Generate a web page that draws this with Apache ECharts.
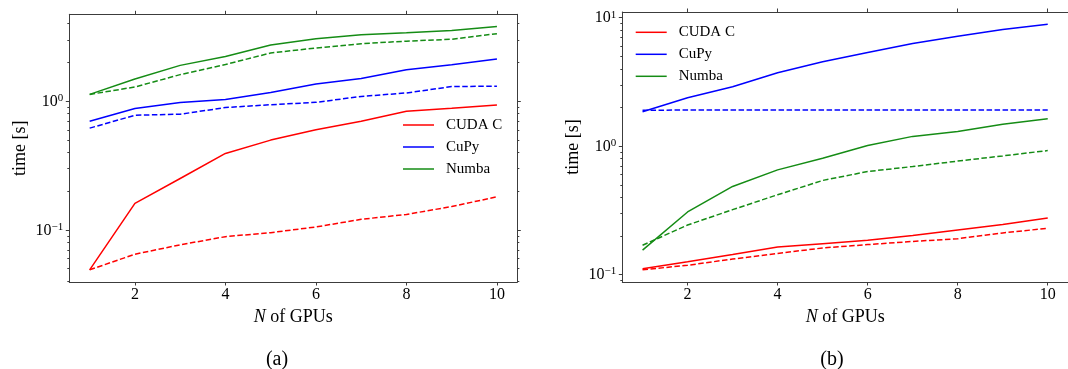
<!DOCTYPE html>
<html>
<head>
<meta charset="utf-8">
<script src="https://cdn.jsdelivr.net/npm/echarts@6/dist/echarts.min.js"></script>
<style>
  html, body { margin: 0; padding: 0; background: #ffffff; }
  #chart { width: 1068px; height: 369px; }
</style>
</head>
<body>
<div id="chart"></div>
<script>
// Number of GPUs on the horizontal axis
const gpus = [1, 2, 3, 4, 5, 6, 7, 8, 9, 10];

// Panel (a): run time in seconds (solid and dashed variants)
const cudaA      = [0.049, 0.161, 0.251, 0.393, 0.499, 0.600, 0.700, 0.836, 0.883, 0.937];
const cudaADash  = [0.049, 0.0648, 0.0766, 0.0887, 0.0953, 0.1055, 0.121, 0.132, 0.152, 0.181];
const cupyA      = [0.700, 0.877, 0.977, 1.03, 1.17, 1.36, 1.50, 1.76, 1.92, 2.13];
const cupyADash  = [0.618, 0.778, 0.793, 0.893, 0.940, 0.980, 1.09, 1.16, 1.30, 1.31];
const numbaA     = [1.13, 1.49, 1.90, 2.23, 2.73, 3.06, 3.29, 3.41, 3.55, 3.81];
const numbaADash = [1.13, 1.29, 1.61, 1.93, 2.37, 2.59, 2.80, 2.93, 3.03, 3.35];

// Panel (b): run time in seconds (solid and dashed variants)
const cudaB      = [0.111, 0.1255, 0.143, 0.164, 0.174, 0.185, 0.201, 0.222, 0.245, 0.276];
const cudaBDash  = [0.109, 0.118, 0.132, 0.146, 0.161, 0.171, 0.181, 0.190, 0.211, 0.229];
const cupyB      = [1.85, 2.38, 2.90, 3.72, 4.53, 5.36, 6.29, 7.16, 8.07, 8.88];
const cupyBDash  = [1.90, 1.91, 1.91, 1.91, 1.91, 1.91, 1.91, 1.91, 1.91, 1.91];
const numbaB     = [0.155, 0.307, 0.485, 0.653, 0.805, 1.01, 1.19, 1.30, 1.48, 1.63];
const numbaBDash = [0.169, 0.243, 0.320, 0.418, 0.540, 0.634, 0.693, 0.764, 0.839, 0.923];

// Legend entries and panel captions
const names = ['CUDA C', 'CuPy', 'Numba'];
const captions = ['(a)', '(b)'];

// Tick positions
const xTicks = [2, 4, 6, 8, 10];
const yMajorA = [0.1, 1];
const yMinorA = [0.04, 0.05, 0.06, 0.07, 0.08, 0.09, 0.2, 0.3, 0.4, 0.5, 0.6, 0.7, 0.8, 0.9, 2, 3, 4];
const yMajorB = [0.1, 1, 10];
const yMinorB = [0.09, 0.2, 0.3, 0.4, 0.5, 0.6, 0.7, 0.8, 0.9, 2, 3, 4, 5, 6, 7, 8, 9];

const FONT = 'Liberation Serif';
const SPINE = '#3c3c3c';
const COLORS = { 'CUDA C': '#ff0000', 'CuPy': '#0000ff', 'Numba': '#158c15' };
const DASH = [5.5, 2.5];

// Axis limits padded by 5% of the data span (log space for y)
function logLimits(arrays) {
  const all = [].concat(...arrays);
  const lo = Math.log10(Math.min(...all));
  const hi = Math.log10(Math.max(...all));
  const pad = 0.05 * (hi - lo);
  return [Math.pow(10, lo - pad), Math.pow(10, hi + pad)];
}
const xPad = 0.05 * (gpus[gpus.length - 1] - gpus[0]);
const xMin = gpus[0] - xPad;
const xMax = gpus[gpus.length - 1] + xPad;

function powLabel(v) {
  const e = Math.round(Math.log10(v));
  return '{b|10}{s|' + (e < 0 ? '\u2212' + (-e) : String(e)) + '}';
}

const panels = [
  {
    grid: { left: 69.3, top: 14.3, width: 448, height: 267.7 },
    solid: [cudaA, cupyA, numbaA],
    dashed: [cudaADash, cupyADash, numbaADash],
    major: yMajorA, minor: yMinorA,
    legendPos: { left: 403, top: 117.5 },
    captionX: 272
  },
  {
    grid: { left: 622.3, top: 12, width: 448.7, height: 270 },
    solid: [cudaB, cupyB, numbaB],
    dashed: [cudaBDash, cupyBDash, numbaBDash],
    major: yMajorB, minor: yMinorB,
    legendPos: { left: 635.7, top: 24.8 },
    captionX: 827
  }
];

const option = {
  animation: false,
  backgroundColor: '#ffffff',
  grid: [], xAxis: [], yAxis: [], series: [], legend: [], title: []
};

panels.forEach((p, gi) => {
  const lim = logLimits(p.solid.concat(p.dashed));
  option.grid.push(Object.assign({ containLabel: false }, p.grid));

  // bottom axis with labels, top axis as a ticked frame edge
  option.xAxis.push({
    type: 'value', gridIndex: gi, position: 'bottom', min: xMin, max: xMax,
    name: '{i|N} of GPUs', nameLocation: 'middle', nameGap: 23,
    nameTextStyle: {
      fontFamily: FONT, fontSize: 18, color: '#000',
      rich: { i: { fontFamily: FONT, fontSize: 18, fontStyle: 'italic', color: '#000' } }
    },
    axisLine: { show: true, lineStyle: { color: SPINE, width: 1 } },
    axisTick: { show: true, inside: false, length: 3.5, customValues: xTicks, lineStyle: { color: SPINE } },
    axisLabel: { show: true, customValues: xTicks, margin: 5, fontFamily: FONT, fontSize: 16, color: '#000' },
    splitLine: { show: false }
  });
  option.xAxis.push({
    type: 'value', gridIndex: gi, position: 'top', min: xMin, max: xMax,
    axisLine: { show: true, lineStyle: { color: SPINE, width: 1 } },
    axisTick: { show: true, inside: false, length: 3.5, customValues: xTicks, lineStyle: { color: SPINE } },
    axisLabel: { show: false },
    splitLine: { show: false }
  });

  const baseY = { type: 'log', logBase: 10, gridIndex: gi, min: lim[0], max: lim[1], splitLine: { show: false } };
  // left: major ticks + labels
  option.yAxis.push(Object.assign({}, baseY, {
    position: 'left',
    name: 'time [s]', nameLocation: 'middle', nameGap: 40,
    nameTextStyle: { fontFamily: FONT, fontSize: 18, color: '#000' },
    axisLine: { show: true, lineStyle: { color: SPINE, width: 1 } },
    axisTick: { show: true, inside: false, length: 3.5, customValues: p.major, lineStyle: { color: SPINE } },
    axisLabel: {
      show: true, customValues: p.major, margin: 6, formatter: powLabel,
      rich: {
        b: { fontFamily: FONT, fontSize: 16, lineHeight: 17, color: '#000', verticalAlign: 'bottom' },
        s: { fontFamily: FONT, fontSize: 11, lineHeight: 10, color: '#000', verticalAlign: 'top' }
      }
    }
  }));
  // left: minor ticks
  option.yAxis.push(Object.assign({}, baseY, {
    position: 'left',
    axisLine: { show: false },
    axisTick: { show: true, inside: false, length: 2, customValues: p.minor, lineStyle: { color: SPINE } },
    axisLabel: { show: false }
  }));
  // right: major ticks
  option.yAxis.push(Object.assign({}, baseY, {
    position: 'right',
    axisLine: { show: true, lineStyle: { color: SPINE, width: 1 } },
    axisTick: { show: true, inside: false, length: 3.5, customValues: p.major, lineStyle: { color: SPINE } },
    axisLabel: { show: false }
  }));
  // right: minor ticks
  option.yAxis.push(Object.assign({}, baseY, {
    position: 'right',
    axisLine: { show: false },
    axisTick: { show: true, inside: false, length: 2, customValues: p.minor, lineStyle: { color: SPINE } },
    axisLabel: { show: false }
  }));

  const addLine = (name, values, dashed) => {
    option.series.push({
      type: 'line', name: dashed ? name + ' (dashed)' : name,
      xAxisIndex: 2 * gi, yAxisIndex: 4 * gi,
      data: gpus.map((g, i) => [g, values[i]]),
      symbol: 'none', showSymbol: false,
      lineStyle: { color: COLORS[name], width: 1.5, type: dashed ? DASH : 'solid' },
      itemStyle: { color: COLORS[name] },
      emphasis: { disabled: true }
    });
  };
  names.forEach((n, k) => addLine(n, p.solid[k], false));
  names.forEach((n, k) => addLine(n, p.dashed[k], true));

  option.legend.push({
    data: names, orient: 'vertical', padding: 0,
    left: p.legendPos.left, top: p.legendPos.top,
    icon: 'rect', itemWidth: 31, itemHeight: 1.5, itemGap: 7,
    selectedMode: false,
    textStyle: { fontFamily: FONT, fontSize: 15, lineHeight: 15, color: '#000', padding: [0, 0, 0, 7] }
  });

  option.title.push({
    text: captions[gi], left: p.captionX, top: 345, textAlign: 'center',
    textStyle: { fontFamily: FONT, fontSize: 20, fontWeight: 'normal', color: '#000' }
  });
});

const chart = echarts.init(document.getElementById('chart'), null, { renderer: 'canvas' });
chart.setOption(option);
</script>
</body>
</html>
